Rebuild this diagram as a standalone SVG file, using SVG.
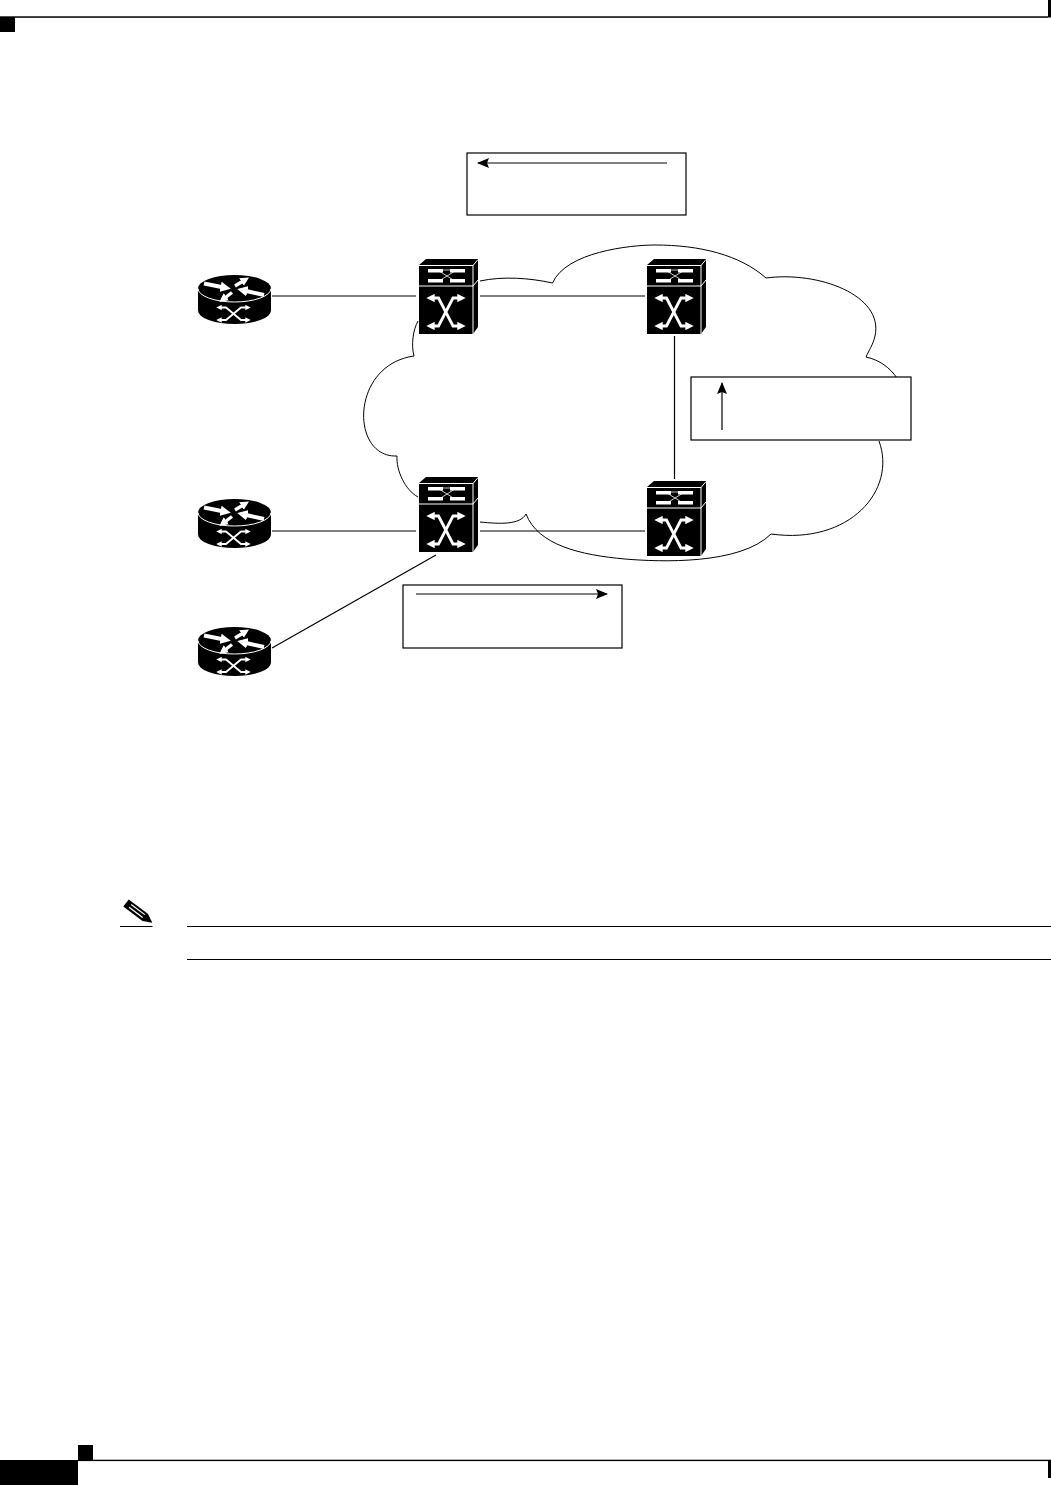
<svg xmlns="http://www.w3.org/2000/svg" width="1051" height="1485" viewBox="0 0 1051 1485">
<style>
.ln{fill:none;stroke:#000;stroke-width:1.2}
.cl{fill:none;stroke:#000;stroke-width:1}
.box{fill:#fff;stroke:#000;stroke-width:1.2}
.wt{fill:none;stroke:#fff;stroke-width:1}
.wx{fill:none;stroke:#fff;stroke-width:2.8}
.wr{fill:none;stroke:#fff;stroke-width:1.8}
.rule{stroke:#000;stroke-width:1.2;fill:none}
</style>
<defs>
<marker id="ah" viewBox="0 0 12 10" refX="11" refY="5" markerWidth="12" markerHeight="10" markerUnits="userSpaceOnUse" orient="auto"><path d="M0,0 L12,5 L0,10 L2,5 Z" fill="#000"/></marker>
<marker id="wa" viewBox="0 0 6 6" refX="3" refY="3" markerWidth="3" markerHeight="3" orient="auto-start-reverse"><path d="M0,0 L6,3 L0,6 Z" fill="#fff"/></marker>
<marker id="wb" viewBox="0 0 6 6" refX="2" refY="3" markerWidth="2.6" markerHeight="2.6" orient="auto"><path d="M0,0 L6,3 L0,6 Z" fill="#fff"/></marker>
<g id="sw">
<path d="M0,6 L7,0 H59 V68 L54,75 H0 Z" fill="#000"/>
<path class="wt" d="M0,6.5 H54 L59,0.5 M54,6 V75 M0,27 H54 L59,21"/>
<path fill="#fff" d="M9,10 H24 V13.5 H9 Z M31,10 H46 V13.5 H31 Z M9,20 H24 V23.5 H9 Z M31,20 H46 V23.5 H31 Z"/>
<path stroke="#fff" stroke-width="0.8" fill="none" d="M20,12 L36,22 M36,12 L20,22"/>
<path stroke="#888" stroke-width="1.4" fill="none" d="M24,11 H31"/>
<path class="wx" marker-start="url(#wa)" marker-end="url(#wa)" d="M11.5,39 H19.5 L34,67 H42.5"/>
<path class="wx" marker-start="url(#wa)" marker-end="url(#wa)" d="M42.5,39 H34 L19.5,67 H11.5"/>
</g>
<g id="rt">
<path d="M0,13.5 A36.5,13.5 0 0 1 73,13.5 V35.5 A36.5,13.5 0 0 1 0,35.5 Z" fill="#000"/>
<path class="wt" d="M0,13.5 A36.5,13.5 0 0 0 73,13.5"/>
<path fill="none" stroke="#fff" stroke-width="4" marker-end="url(#wb)" d="M6,8.5 L26,12.5"/>
<path fill="none" stroke="#fff" stroke-width="3.4" marker-end="url(#wb)" d="M37,11 L46,5.5"/>
<path fill="none" stroke="#fff" stroke-width="4" marker-end="url(#wb)" d="M66,20 L46,15.5"/>
<path fill="none" stroke="#fff" stroke-width="3.4" marker-end="url(#wb)" d="M34,17.5 L26,23.5"/>
<path class="wr" marker-start="url(#wa)" marker-end="url(#wa)" d="M21,32.5 H28 L43,45 H50"/>
<path class="wr" marker-start="url(#wa)" marker-end="url(#wa)" d="M50,32.5 H43 L28,45 H21"/>
</g>
</defs>
<rect width="1051" height="1485" fill="#fff"/>
<g id="page">
<rect x="0" y="17" width="15" height="15" fill="#000"/>
<rect x="0" y="16.3" width="1048" height="1.5" fill="#000"/>
<rect x="1048" y="0" width="3" height="17.5" fill="#000"/>
<rect x="78" y="1445" width="15" height="15" fill="#000"/>
<rect x="0" y="1460" width="78" height="25" fill="#000"/>
<rect x="78" y="1459.7" width="973" height="1.4" fill="#000"/>
<rect x="1048" y="1460" width="3" height="18" fill="#000"/>
</g>
<g id="cloud">
<path class="cl" d="M480,281 C503,276 530,278 552.5,283 C566,252 630,245 655,245 C700,245 740,255 766,278 C818,271 884,295 875,336 C873,345 869,350 866,357 C880,360 890,368 897,378 M879,441 C897,490 850,545 771,534 C740,565 660,562 625,559 C580,555 538,545 526,514 C520,525 500,524 480,522 M418,497 C405,490 396,470 397,456 C350,458 350,365 414,356 C411,345 413,330 418,321"/>
</g>
<g id="connectors">
<path class="ln" d="M272,296 H416 M480,296 H645 M674.5,336 V479 M272,531 H416 M480,531 H645 M272,648 L436,555"/>
</g>
<g id="switch-a"><use href="#sw" x="419" y="259"/></g>
<g id="switch-b"><use href="#sw" x="647" y="259"/></g>
<g id="switch-c"><use href="#sw" x="419" y="477"/></g>
<g id="switch-d"><use href="#sw" x="647" y="481"/></g>
<g id="router-1"><use href="#rt" x="198" y="275"/></g>
<g id="router-2"><use href="#rt" x="198" y="499"/></g>
<g id="router-3"><use href="#rt" x="198" y="627"/></g>
<g id="box-top"><rect class="box" x="467" y="153" width="219" height="62"/><path class="ln" d="M667,163 H478" marker-end="url(#ah)"/></g>
<g id="box-right"><rect class="box" x="691" y="377" width="220" height="63"/><path class="ln" d="M722,430 V383" marker-end="url(#ah)"/></g>
<g id="box-bottom"><rect class="box" x="403" y="585" width="219" height="63"/><path class="ln" d="M416,594 H607" marker-end="url(#ah)"/></g>
<g id="note">
<g transform="translate(126,903) rotate(37)">
<path d="M0,-4.5 H24 L33,0 L24,4.5 H0 Z" fill="#000"/>
<path d="M5,-2 H22 M5,1.5 H22" stroke="#fff" stroke-width="1.2"/>
</g>
<path class="rule" d="M120,926.5 H152.5 M187,926.5 H1051 M187,959.5 H1051"/>
</g>
</svg>
